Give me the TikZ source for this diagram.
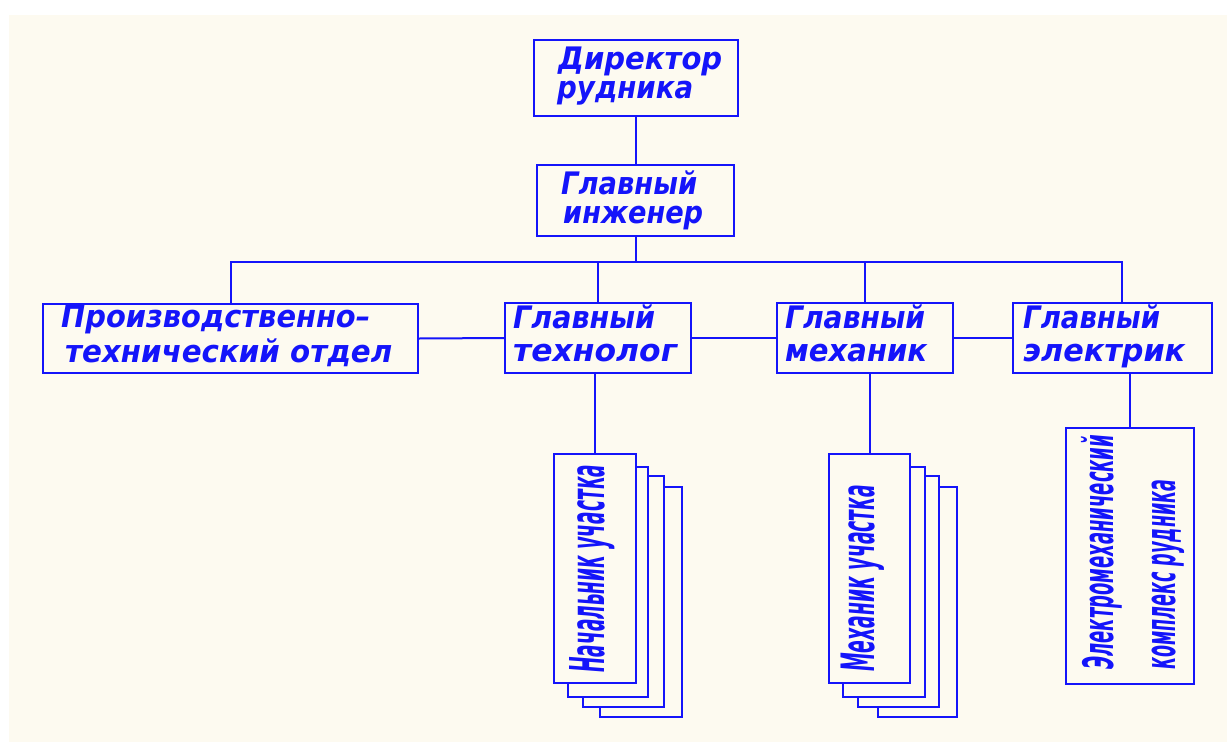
\documentclass[tikz,border=0pt]{standalone}
\usepackage{fontspec}
\usepackage{graphicx}
\newfontfamily\cadfont{DejaVu Sans}[BoldFont={DejaVu Sans Bold}, ItalicFont={DejaVu Sans Oblique}, BoldItalicFont={DejaVu Sans Bold Oblique}]
\definecolor{cream}{RGB}{253,250,240}
\definecolor{cadblue}{RGB}{20,20,250}
\newcommand\fitw[2]{\resizebox{#1pt}{\height}{#2}}
\newcommand\mkbox[5]{\node[box,minimum width={(#4)-(#2)},minimum height={(#5)-(#3)}] (#1) at ({((#2)+(#4))/2},{((#3)+(#5))/2}) {};}
\begin{document}
\begin{tikzpicture}[x=1pt,y=-1pt,
  box/.style={draw=cadblue,line width=2pt,fill=cream,inner sep=0pt,rectangle},
  wire/.style={draw=cadblue,line width=2pt},
  htxt/.style={inner sep=0pt,anchor=base west,text=cadblue,font=\cadfont\bfseries\itshape\fontsize{31}{33}\selectfont},
  vtxt/.style={inner sep=0pt,anchor=base west,rotate=90,text=cadblue,font=\cadfont\bfseries\itshape\fontsize{#1}{#1}\selectfont}]
\useasboundingbox (0,0) rectangle (1227,742);
\fill[white] (0,0) rectangle (1227,742);
\fill[cream] (9,15) rectangle (1227,742);
% main boxes
\mkbox{dir}{534}{40}{738}{116}
\mkbox{eng}{537}{165}{734}{236}
\mkbox{pto}{43}{304}{418}{373}
\mkbox{tech}{505}{303}{691}{373}
\mkbox{mech}{777}{303}{953}{373}
\mkbox{elec}{1013}{303}{1212}{373}
% stacks (back to front)
\mkbox{ts4}{600}{487}{682}{717}
\mkbox{ts3}{583}{476}{664}{707}
\mkbox{ts2}{568}{467}{648}{697}
\mkbox{ts1}{554}{454}{636}{683}
\mkbox{ms4}{878}{487}{957}{717}
\mkbox{ms3}{858}{476}{939}{707}
\mkbox{ms2}{843}{467}{925}{697}
\mkbox{ms1}{829}{454}{910}{683}
\mkbox{ek}{1066}{428}{1194}{684}
% connectors
\coordinate (busR) at (1122,262);
\draw[wire] (dir.south) -- (dir.south |- eng.north);
\draw[wire] (eng.south) -- (eng.south |- busR);
\draw[wire] (pto.north) |- (busR) -- (busR |- elec.north);
\draw[wire] (tech.north) -- (tech.north |- busR);
\draw[wire] (mech.north) -- (mech.north |- busR);
\draw[wire] (pto.east) -- (tech.west);
\draw[wire] (tech.east) -- (mech.west);
\draw[wire] (mech.east) -- (elec.west);
\draw[wire] (ts1.north) -- (ts1.north |- tech.south);
\draw[wire] (ms1.north) -- (ms1.north |- mech.south);
\draw[wire] (ek.north) -- (ek.north |- elec.south);
% texts
\node[htxt] (t1) at (558,69) {\fitw{164}{Директор}};
\node[htxt] (t2) at (557,98) {\fitw{136}{рудника}};
\node[htxt] (t3) at (561,194) {\fitw{136}{Главный}};
\node[htxt] (t4) at (563,223) {\fitw{140}{инженер}};
\node[htxt] (t5) at (61,327) {\fitw{309}{Производственно–}};
\node[htxt] (t6) at (65,362) {\fitw{327}{технический отдел}};
\node[htxt] (t7) at (513,328) {\fitw{142}{Главный}};
\node[htxt] (t8) at (513,361) {\fitw{164}{технолог}};
\node[htxt] (t9) at (785,328) {\fitw{140}{Главный}};
\node[htxt] (t10) at (785,361) {\fitw{142}{механик}};
\node[htxt] (t11) at (1023,328) {\fitw{137}{Главный}};
\node[htxt] (t12) at (1023,361) {\fitw{162}{электрик}};
\node[vtxt=48] (v1) at (604,673) {\fitw{208}{Начальник участка}};
\node[vtxt=46] (v2) at (874,672) {\fitw{187}{Механик участка}};
\node[vtxt=42] (v3) at (1113,670) {\fitw{235}{Электромеханический}};
\node[vtxt=42] (v4) at (1175,670) {\fitw{190}{комплекс рудника}};
\end{tikzpicture}
\end{document}
